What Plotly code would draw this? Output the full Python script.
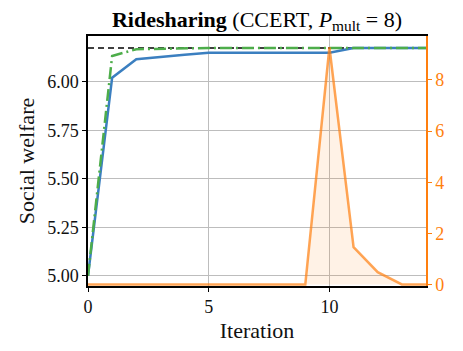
import plotly.graph_objects as go

iterations = list(range(15))
welfare_a = [5.00, 6.022, 6.117, 6.13, 6.14, 6.151, 6.151, 6.151, 6.151, 6.151, 6.151, 6.175, 6.175, 6.175, 6.175]
welfare_b = [5.00, 6.134, 6.169, 6.172, 6.174, 6.175, 6.175, 6.175, 6.175, 6.175, 6.175, 6.175, 6.175, 6.175, 6.175]
optimum = 6.175
right_vals = [0, 0, 0, 0, 0, 0, 0, 0, 0, 0, 9.28, 1.46, 0.48, 0, 0]

FONT = "Liberation Serif"
ORANGE = "#ff7f0e"

fig = go.Figure()

# optimum reference
fig.add_trace(go.Scatter(x=[0, 14], y=[optimum, optimum], mode="lines",
                         line=dict(color="black", width=1.5, dash="6px,4px"), showlegend=False))
fig.add_trace(go.Scatter(x=iterations, y=welfare_a, mode="lines",
                         line=dict(color="#3b7fc0", width=2.5), showlegend=False))
fig.add_trace(go.Scatter(x=iterations, y=welfare_b, mode="lines",
                         line=dict(color="#4dad4a", width=2.5, dash="12px,4px,2px,4px"),
                         showlegend=False))
fig.add_trace(go.Scatter(x=iterations, y=right_vals, mode="lines", yaxis="y2",
                         line=dict(color="rgba(255,127,14,0.7)", width=2.5),
                         fill="tozeroy", fillcolor="rgba(255,127,14,0.1)", showlegend=False))

# page body has an 8px margin, so the figure is a bit smaller than the window
fig.update_layout(
    width=455, height=343,
    margin=dict(l=80, r=37, t=28, b=65, autoexpand=False),
    plot_bgcolor="white", paper_bgcolor="white",
    font=dict(family=FONT, size=18, color="#111"),
    title=dict(text="<b>Ridesharing</b> (CCERT, <i>P</i><sub>mult</sub> = 8)",
               x=0.5, xref="paper", xanchor="center", y=0.968, yref="container",
               yanchor="middle", automargin=False,
               font=dict(family=FONT, size=22, color="black")),
    xaxis=dict(range=[0, 14], tickvals=[0, 5, 10], showgrid=True, gridcolor="#bdbdbd",
               gridwidth=1, showline=True, linecolor="black", linewidth=1.5, mirror=True,
               ticks="outside", ticklen=4, tickcolor="black", zeroline=False, automargin=False,
               title=dict(text="Iteration", standoff=6)),
    yaxis=dict(range=[4.948, 6.237], tickvals=[5.0, 5.25, 5.5, 5.75, 6.0], tickformat=".2f",
               showgrid=True, gridcolor="#bdbdbd", gridwidth=1, showline=True,
               linecolor="black", linewidth=1.5, ticks="outside", ticklen=4,
               tickcolor="black", zeroline=False, automargin=False,
               title=dict(text="Social welfare", standoff=6)),
    yaxis2=dict(range=[-0.06, 9.72], tickvals=[0, 2, 4, 6, 8], overlaying="y", side="right",
                showgrid=False, zeroline=False, showline=True, linecolor=ORANGE, linewidth=1.5,
                ticks="outside", ticklen=4, tickcolor=ORANGE, automargin=False,
                tickfont=dict(color=ORANGE)),
)

# right axis title, mostly cut off by the page edge as in the original
fig.add_annotation(text="Price adjustments", xref="paper", yref="paper", x=1.085, y=0.5,
                   xanchor="left", yanchor="middle", textangle=-90, showarrow=False,
                   font=dict(family=FONT, size=18, color="rgba(255,127,14,0.6)"))

fig.write_html("out.html")
